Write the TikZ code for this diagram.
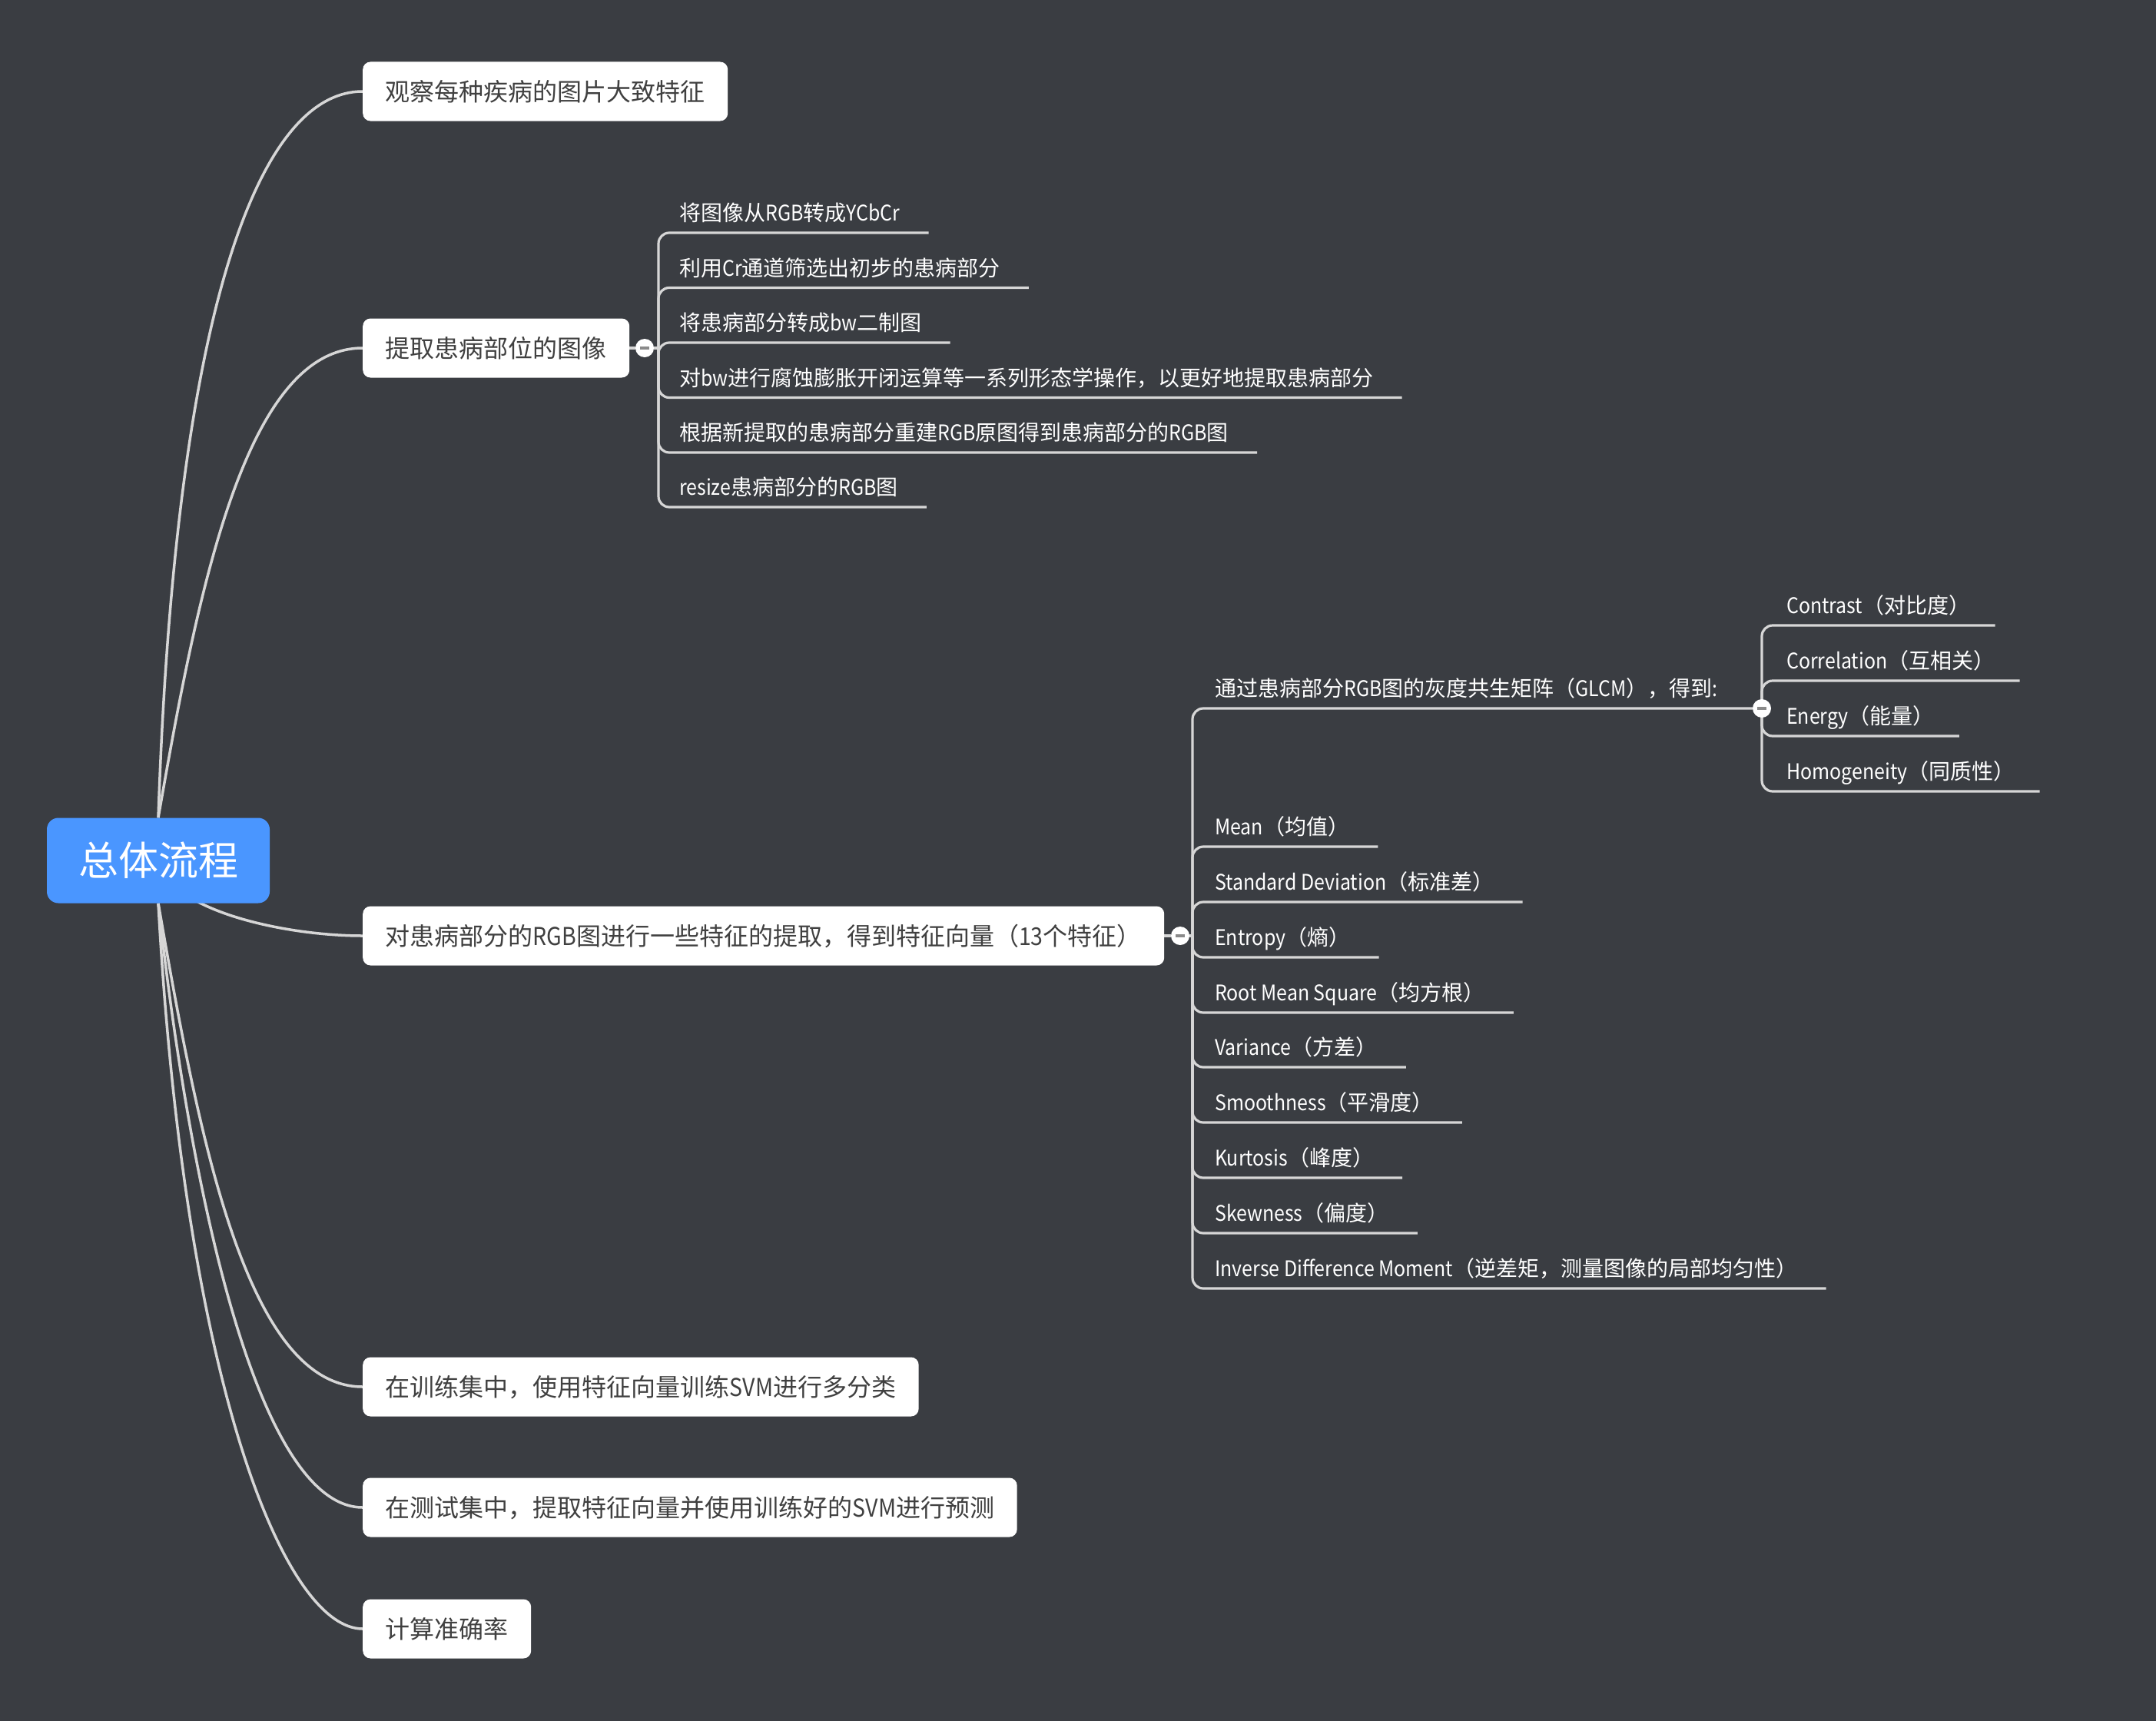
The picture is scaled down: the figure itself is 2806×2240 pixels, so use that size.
\documentclass[tikz,border=0pt]{standalone}
\usepackage{fontspec}
\setmainfont{Noto Sans CJK SC}
\newfontfamily\latinf{Noto Sans CJK SC}[FakeStretch=0.89]
\newcommand\latn[1]{{\latinf #1}}
\usetikzlibrary{calc}
\definecolor{bgc}{HTML}{3A3D42}
\definecolor{rootblue}{HTML}{4A96FF}
\definecolor{linec}{HTML}{D6D6D6}
\definecolor{boxtext}{HTML}{404040}
\definecolor{minusc}{HTML}{8A8A8A}
\pgfdeclarelayer{bgfill}
\pgfdeclarelayer{lines}
\pgfsetlayers{bgfill,lines,main}
\tikzset{
  rootbox/.style={fill=rootblue, rounded corners=15pt, text=white,
    font=\fontsize{52pt}{60pt}\selectfont, minimum width=290pt, minimum height=111pt,
    inner sep=0pt, text height=44pt, text depth=5pt},
  mainbox/.style={fill=white, rounded corners=10pt, text=boxtext,
    font=\fontsize{32pt}{38pt}\selectfont, minimum height=77pt, inner xsep=29.5pt,
    inner ysep=0pt, anchor=west, text height=27pt, text depth=3pt},
  leaf/.style={text=white, font=\fontsize{28pt}{32pt}\selectfont, inner sep=0pt,
    anchor=west, text height=24pt, text depth=2.5pt},
  curve/.style={draw=linec, line width=3.5pt},
  conn/.style={draw=linec, line width=3.2pt, rounded corners=14pt},
  toggle/.style={circle, fill=white, minimum size=24pt, inner sep=0pt,
    path picture={\draw[minusc, line width=3.5pt]
      ($(path picture bounding box.center)+(-6pt,0pt)$) -- ++(12pt,0pt);}},
}
\begin{document}
\begin{tikzpicture}[x=1pt,y=-1pt]
\useasboundingbox (0,0) rectangle (2806,2240);
\begin{pgfonlayer}{bgfill}
\fill[bgc] (0,0) rectangle (2806,2240);
\end{pgfonlayer}

% root and main branches
\node[rootbox] (root) at (206,1120) {总体流程};
\node[mainbox] (b1) at (472,119) {观察每种疾病的图片大致特征};
\node[mainbox] (b2) at (472,453) {提取患病部位的图像};
\node[mainbox] (b3) at (472,1218) {对患病部分的\latn{RGB}图进行一些特征的提取，得到特征向量（\latn{13}个特征）};
\node[mainbox] (b4) at (472,1805) {在训练集中，使用特征向量训练\latn{SVM}进行多分类};
\node[mainbox] (b5) at (472,1962) {在测试集中，提取特征向量并使用训练好的\latn{SVM}进行预测};
\node[mainbox] (b6) at (472,2120) {计算准确率};

% toggles
\node[toggle] (t2) at (839,453) {};
\node[toggle] (t3) at (1536,1218) {};
\node[toggle] (tg) at (2293,922) {};
\coordinate (j2) at (857,453);
\coordinate (j3) at (1552,1218);

% branch 2 leaves
\node[leaf] (a1) at (884,277) {将图像从\latn{RGB}转成\latn{YCbCr}};
\node[leaf] (a2) at (884,348.5) {利用\latn{Cr}通道筛选出初步的患病部分};
\node[leaf] (a3) at (884,420) {将患病部分转成\latn{bw}二制图};
\node[leaf] (a4) at (884,491.5) {对\latn{bw}进行腐蚀膨胀开闭运算等一系列形态学操作，以更好地提取患病部分};
\node[leaf] (a5) at (884,563) {根据新提取的患病部分重建\latn{RGB}原图得到患病部分的\latn{RGB}图};
\node[leaf] (a6) at (884,634) {\latn{resize}患病部分的\latn{RGB}图};

% branch 3 leaves
\node[leaf] (g) at (1581,896) {通过患病部分\latn{RGB}图的灰度共生矩阵（\latn{GLCM}），得到\latn{:}};
\node[leaf] (f1) at (1581,1076) {\latn{Mean}（均值）};
\node[leaf] (f2) at (1581,1148) {\latn{Standard Deviation}（标准差）};
\node[leaf] (f3) at (1581,1220) {\latn{Entropy}（熵）};
\node[leaf] (f4) at (1581,1292) {\latn{Root Mean Square}（均方根）};
\node[leaf] (f5) at (1581,1363) {\latn{Variance}（方差）};
\node[leaf] (f6) at (1581,1435) {\latn{Smoothness}（平滑度）};
\node[leaf] (f7) at (1581,1507) {\latn{Kurtosis}（峰度）};
\node[leaf] (f8) at (1581,1579) {\latn{Skewness}（偏度）};
\node[leaf] (f9) at (1581,1651) {\latn{Inverse Difference Moment}（逆差矩，测量图像的局部均匀性）};

% GLCM leaves
\node[leaf] (c1) at (2325,788) {\latn{Contrast}（对比度）};
\node[leaf] (c2) at (2325,860) {\latn{Correlation}（互相关）};
\node[leaf] (c3) at (2325,932) {\latn{Energy}（能量）};
\node[leaf] (c4) at (2325,1004) {\latn{Homogeneity}（同质性）};

\begin{pgfonlayer}{lines}
% root curves
\draw[curve] (root.north) .. controls (228,410) and (335,119) .. (b1.west);
\draw[curve] (root.north) .. controls (258,765) and (320,453) .. (b2.west);
\draw[curve] (root.center) .. controls (220,1185) and (370,1218) .. (b3.west);
\draw[curve] (root.south) .. controls (258,1476) and (320,1805) .. (b4.west);
\draw[curve] (root.south) .. controls (250,1576) and (340,1962) .. (b5.west);
\draw[curve] (root.south) .. controls (240,1800) and (370,2120) .. (b6.west);

% branch 2
\draw[conn] (b2.east) -- (t2.west);
\draw[conn] (t2.east) -- (j2);
\foreach \n in {a1,a2,a3,a4,a5,a6}
  \draw[conn] (j2) |- ($(\n.east)+(37,26)$);

% branch 3
\draw[conn] (b3.east) -- (t3.west);
\draw[conn] (t3.east) -- (j3);
\draw[conn] (j3) |- (tg.west);
\foreach \n in {f1,f2,f3,f4,f5,f6,f7,f8,f9}
  \draw[conn] (j3) |- ($(\n.east)+(37,26)$);

% GLCM children
\foreach \n in {c1,c2,c3,c4}
  \draw[conn] (tg.center) |- ($(\n.east)+(32,26)$);
\end{pgfonlayer}
\end{tikzpicture}
\end{document}
